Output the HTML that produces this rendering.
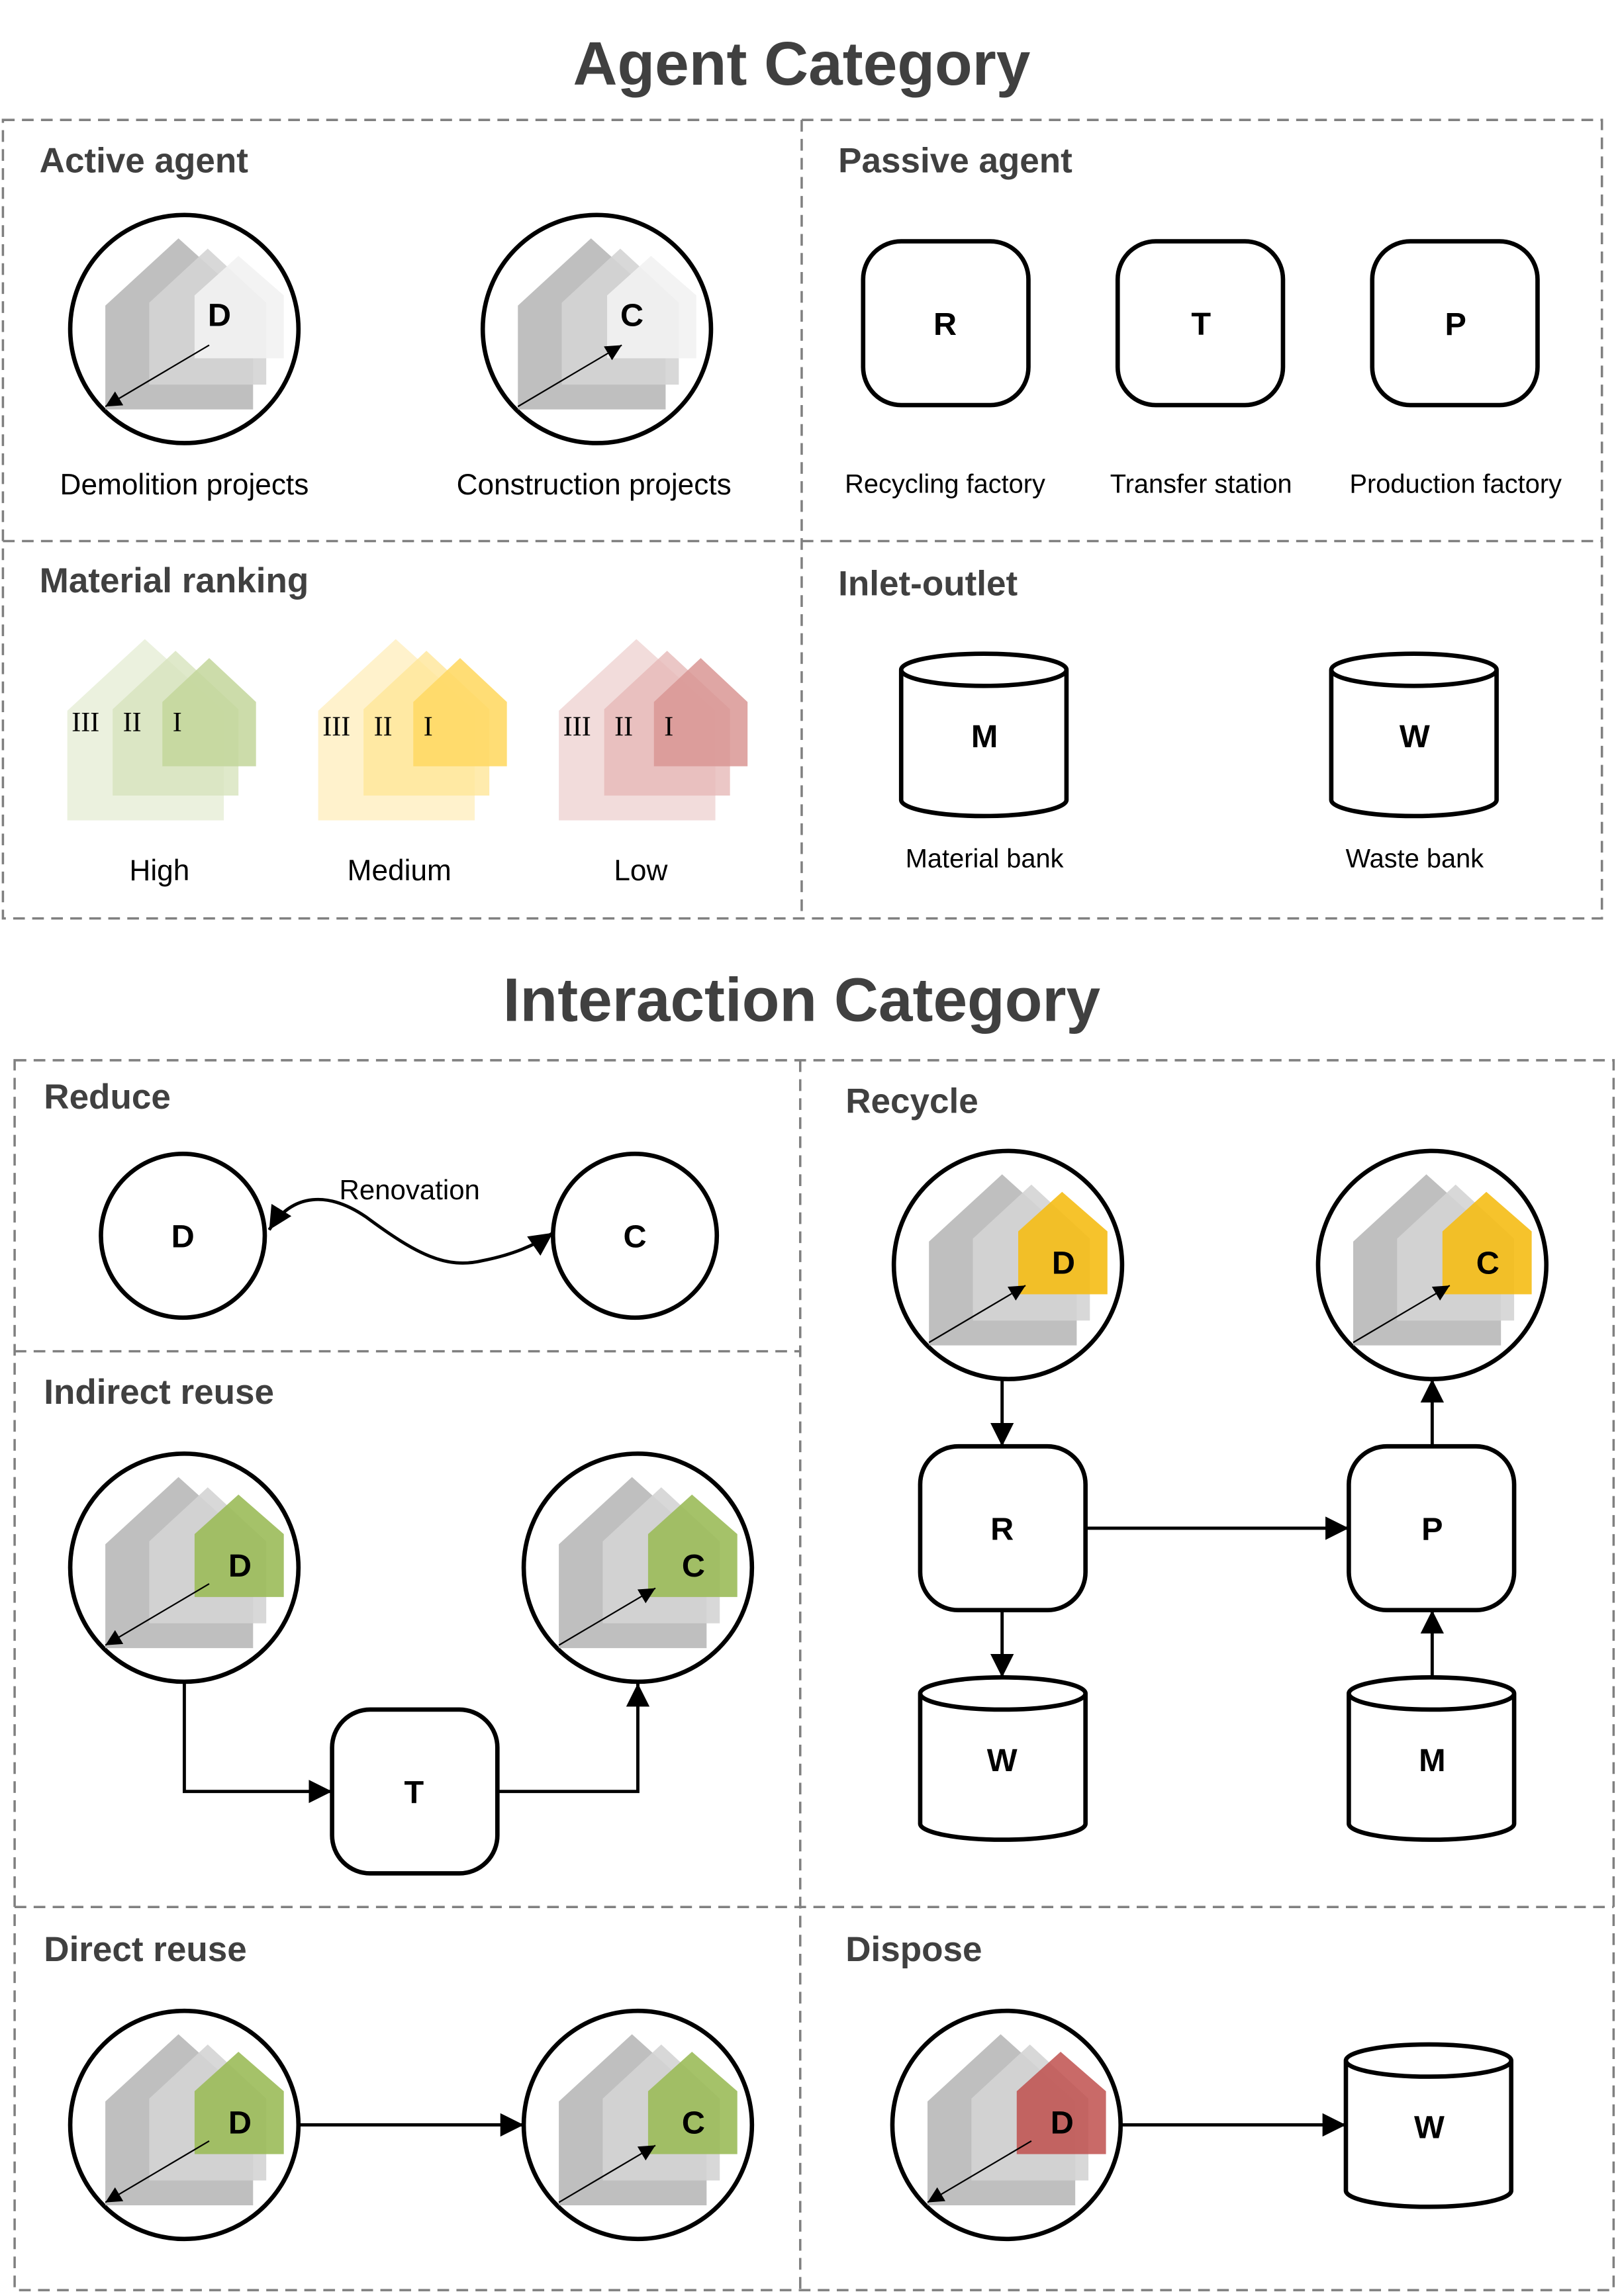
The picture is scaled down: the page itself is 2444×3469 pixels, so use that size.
<!DOCTYPE html>
<html><head><meta charset="utf-8"><style>
html,body{margin:0;padding:0;background:#fff;}
svg{display:block;}
.t{font-family:"Liberation Sans",sans-serif;font-weight:bold;fill:#404040;}
.l{font-family:"Liberation Sans",sans-serif;fill:#000;}
.n{font-family:"Liberation Sans",sans-serif;font-weight:bold;fill:#000;font-size:22px;text-anchor:middle;}
.r{font-family:"Liberation Serif",serif;fill:#000;font-size:19px;}
.d{fill:none;stroke:#808080;stroke-width:1.6;stroke-dasharray:8 5;}
.k{fill:#fff;stroke:#000;stroke-width:3;}
.a{fill:none;stroke:#000;stroke-width:2.2;}
</style></head><body>
<svg width="2444" height="3469" viewBox="0 0 1106 1570" preserveAspectRatio="none" xmlns="http://www.w3.org/2000/svg">
<defs>
<marker id="ah" viewBox="0 0 10 10" refX="10" refY="5" markerWidth="16" markerHeight="16" markerUnits="userSpaceOnUse" orient="auto-start-reverse"><path d="M0,0 L10,5 L0,10 z" fill="#000"/></marker>
<marker id="sh" viewBox="0 0 10 10" refX="10" refY="5" markerWidth="11" markerHeight="11" markerUnits="userSpaceOnUse" orient="auto"><path d="M0,0 L10,5 L0,10 z" fill="#000"/></marker>
<g id="hb">
<polygon points="-54,55 -54,-16 -4,-62 47,-16 47,55" fill="#bfbfbf"/>
<polygon points="-24,38 -24,-18 16,-55 56,-18 56,38" fill="#d4d4d4" fill-opacity="0.9"/>
</g>
<polygon id="hf" points="7,20 7,-23 37,-50 68,-23 68,20"/>
<path id="cyl" d="M0,11 A56.5,11 0 0 1 113,11 V100 A56.5,11 0 0 1 0,100 Z M0,11 A56.5,11 0 0 0 113,11"/>
</defs>

<!-- Agent Category -->
<text class="t" x="548" y="58" font-size="42" text-anchor="middle">Agent Category</text>
<rect class="d" x="2" y="82" width="1093" height="546"/>
<line class="d" x1="548" y1="82" x2="548" y2="628"/>
<line class="d" x1="2" y1="370" x2="1095" y2="370"/>
<text class="t" x="27" y="118" font-size="24">Active agent</text>
<text class="t" x="573" y="118" font-size="24">Passive agent</text>
<text class="t" x="27" y="405" font-size="24">Material ranking</text>
<text class="t" x="573" y="407" font-size="24">Inlet-outlet</text>

<!-- active agents -->
<g transform="translate(126,225)">
<circle class="k" r="78"/>
<use href="#hb"/>
<use href="#hf" fill="#f2f2f2" fill-opacity="0.9"/>
<text class="n" x="24" y="-2">D</text>
<line x1="17" y1="11" x2="-54" y2="53" stroke="#000" stroke-width="1" marker-end="url(#sh)"/>
</g>
<g transform="translate(408,225)">
<circle class="k" r="78"/>
<use href="#hb"/>
<use href="#hf" fill="#f2f2f2" fill-opacity="0.9"/>
<text class="n" x="24" y="-2">C</text>
<line x1="-54" y1="53" x2="17" y2="11" stroke="#000" stroke-width="1" marker-end="url(#sh)"/>
</g>
<text class="l" x="126" y="338" font-size="20" text-anchor="middle">Demolition projects</text>
<text class="l" x="406" y="338" font-size="20" text-anchor="middle">Construction projects</text>

<!-- passive -->
<rect class="k" x="590" y="165" width="113" height="112" rx="26"/>
<rect class="k" x="764" y="165" width="113" height="112" rx="26"/>
<rect class="k" x="938" y="165" width="113" height="112" rx="26"/>
<text class="n" x="646" y="229">R</text>
<text class="n" x="821" y="229">T</text>
<text class="n" x="995" y="229">P</text>
<text class="l" x="646" y="337" font-size="18" text-anchor="middle">Recycling factory</text>
<text class="l" x="821" y="337" font-size="18" text-anchor="middle">Transfer station</text>
<text class="l" x="995" y="337" font-size="18" text-anchor="middle">Production factory</text>

<!-- material ranking -->
<g>
<polygon points="46,561 46,486 99,437 153,486 153,561" fill="#ebf1de"/>
<polygon points="77,544 77,485 120,445 163,485 163,544" fill="#d7e4bd" fill-opacity="0.8"/>
<polygon points="111,524 111,480 143,450 175,480 175,524" fill="#c3d69b" fill-opacity="0.85"/>
<text class="r" x="49" y="500">III</text><text class="r" x="84" y="500">II</text><text class="r" x="118" y="500">I</text>
</g>
<g transform="translate(171.5,0)">
<polygon points="46,561 46,486 99,437 153,486 153,561" fill="#fff2cc"/>
<polygon points="77,544 77,485 120,445 163,485 163,544" fill="#ffe699" fill-opacity="0.8"/>
<polygon points="111,524 111,480 143,450 175,480 175,524" fill="#ffd966" fill-opacity="0.9"/>
<text class="r" x="49" y="503">III</text><text class="r" x="84" y="503">II</text><text class="r" x="118" y="503">I</text>
</g>
<g transform="translate(336,0)">
<polygon points="46,561 46,486 99,437 153,486 153,561" fill="#f2dcdb"/>
<polygon points="77,544 77,485 120,445 163,485 163,544" fill="#e6b9b8" fill-opacity="0.8"/>
<polygon points="111,524 111,480 143,450 175,480 175,524" fill="#d99694" fill-opacity="0.85"/>
<text class="r" x="49" y="503">III</text><text class="r" x="84" y="503">II</text><text class="r" x="118" y="503">I</text>
</g>
<text class="l" x="109" y="602" font-size="20" text-anchor="middle">High</text>
<text class="l" x="273" y="602" font-size="20" text-anchor="middle">Medium</text>
<text class="l" x="438" y="602" font-size="20" text-anchor="middle">Low</text>

<!-- inlet-outlet -->
<use href="#cyl" class="k" x="616" y="447"/>
<use href="#cyl" class="k" x="910" y="447"/>
<text class="n" x="673" y="511">M</text>
<text class="n" x="967" y="511">W</text>
<text class="l" x="673" y="593" font-size="18" text-anchor="middle">Material bank</text>
<text class="l" x="967" y="593" font-size="18" text-anchor="middle">Waste bank</text>

<!-- Interaction Category -->
<text class="t" x="548" y="698" font-size="42" text-anchor="middle">Interaction Category</text>
<rect class="d" x="10" y="725" width="1093" height="841"/>
<line class="d" x1="547" y1="725" x2="547" y2="1566"/>
<line class="d" x1="10" y1="924" x2="547" y2="924"/>
<line class="d" x1="10" y1="1304" x2="1103" y2="1304"/>
<text class="t" x="30" y="758" font-size="24">Reduce</text>
<text class="t" x="30" y="960" font-size="24">Indirect reuse</text>
<text class="t" x="30" y="1341" font-size="24">Direct reuse</text>
<text class="t" x="578" y="761" font-size="24">Recycle</text>
<text class="t" x="578" y="1341" font-size="24">Dispose</text>

<!-- reduce -->
<circle class="k" cx="125" cy="845" r="56"/>
<circle class="k" cx="434" cy="845" r="56"/>
<text class="n" x="125" y="853">D</text>
<text class="n" x="434" y="853">C</text>
<path class="a" d="M184,841 C200,815 225,815 250,832 C285,858 305,868 330,862 C350,858 365,852 378,843" marker-start="url(#ah)" marker-end="url(#ah)"/>
<text class="l" x="280" y="820" font-size="19" text-anchor="middle">Renovation</text>

<!-- indirect reuse -->
<g transform="translate(126,1072)">
<circle class="k" r="78"/><use href="#hb"/><use href="#hf" fill="#9bbb59" fill-opacity="0.9"/>
<text class="n" x="38" y="6">D</text>
<line x1="17" y1="11" x2="-54" y2="53" stroke="#000" stroke-width="1" marker-end="url(#sh)"/>
</g>
<g transform="translate(436,1072)">
<circle class="k" r="78"/><use href="#hb"/><use href="#hf" fill="#9bbb59" fill-opacity="0.9"/>
<text class="n" x="38" y="6">C</text>
<line x1="-54" y1="53" x2="12" y2="14" stroke="#000" stroke-width="1" marker-end="url(#sh)"/>
</g>
<rect class="k" x="227" y="1169" width="113" height="112" rx="26"/>
<text class="n" x="283" y="1233">T</text>
<path class="a" d="M126,1150 V1225 H227" marker-end="url(#ah)"/>
<path class="a" d="M340,1225 H436 V1151" marker-end="url(#ah)"/>

<!-- direct reuse -->
<g transform="translate(126,1453)">
<circle class="k" r="78"/><use href="#hb"/><use href="#hf" fill="#9bbb59" fill-opacity="0.9"/>
<text class="n" x="38" y="6">D</text>
<line x1="17" y1="11" x2="-54" y2="53" stroke="#000" stroke-width="1" marker-end="url(#sh)"/>
</g>
<g transform="translate(436,1453)">
<circle class="k" r="78"/><use href="#hb"/><use href="#hf" fill="#9bbb59" fill-opacity="0.9"/>
<text class="n" x="38" y="6">C</text>
<line x1="-54" y1="53" x2="12" y2="14" stroke="#000" stroke-width="1" marker-end="url(#sh)"/>
</g>
<path class="a" d="M204,1453 H358" marker-end="url(#ah)"/>

<!-- recycle -->
<g transform="translate(689,865)">
<circle class="k" r="78"/><use href="#hb"/><use href="#hf" fill="#f5bd15" fill-opacity="0.9"/>
<text class="n" x="38" y="6">D</text>
<line x1="-54" y1="53" x2="12" y2="14" stroke="#000" stroke-width="1" marker-end="url(#sh)"/>
</g>
<g transform="translate(979,865)">
<circle class="k" r="78"/><use href="#hb"/><use href="#hf" fill="#f5bd15" fill-opacity="0.9"/>
<text class="n" x="38" y="6">C</text>
<line x1="-54" y1="53" x2="12" y2="14" stroke="#000" stroke-width="1" marker-end="url(#sh)"/>
</g>
<rect class="k" x="629" y="989" width="113" height="112" rx="26"/>
<rect class="k" x="922" y="989" width="113" height="112" rx="26"/>
<text class="n" x="685" y="1053">R</text>
<text class="n" x="979" y="1053">P</text>
<use href="#cyl" class="k" x="629" y="1147"/>
<use href="#cyl" class="k" x="922" y="1147"/>
<text class="n" x="685" y="1211">W</text>
<text class="n" x="979" y="1211">M</text>
<path class="a" d="M685,943 V989" marker-end="url(#ah)"/>
<path class="a" d="M742,1045 H922" marker-end="url(#ah)"/>
<path class="a" d="M685,1101 V1147" marker-end="url(#ah)"/>
<path class="a" d="M979,1147 V1101" marker-end="url(#ah)"/>
<path class="a" d="M979,989 V943" marker-end="url(#ah)"/>

<!-- dispose -->
<g transform="translate(688,1453)">
<circle class="k" r="78"/><use href="#hb"/><use href="#hf" fill="#c0504d" fill-opacity="0.85"/>
<text class="n" x="38" y="6">D</text>
<line x1="17" y1="11" x2="-54" y2="53" stroke="#000" stroke-width="1" marker-end="url(#sh)"/>
</g>
<use href="#cyl" class="k" x="920" y="1398"/>
<text class="n" x="977" y="1462">W</text>
<path class="a" d="M766,1453 H920" marker-end="url(#ah)"/>
</svg>
</body></html>
